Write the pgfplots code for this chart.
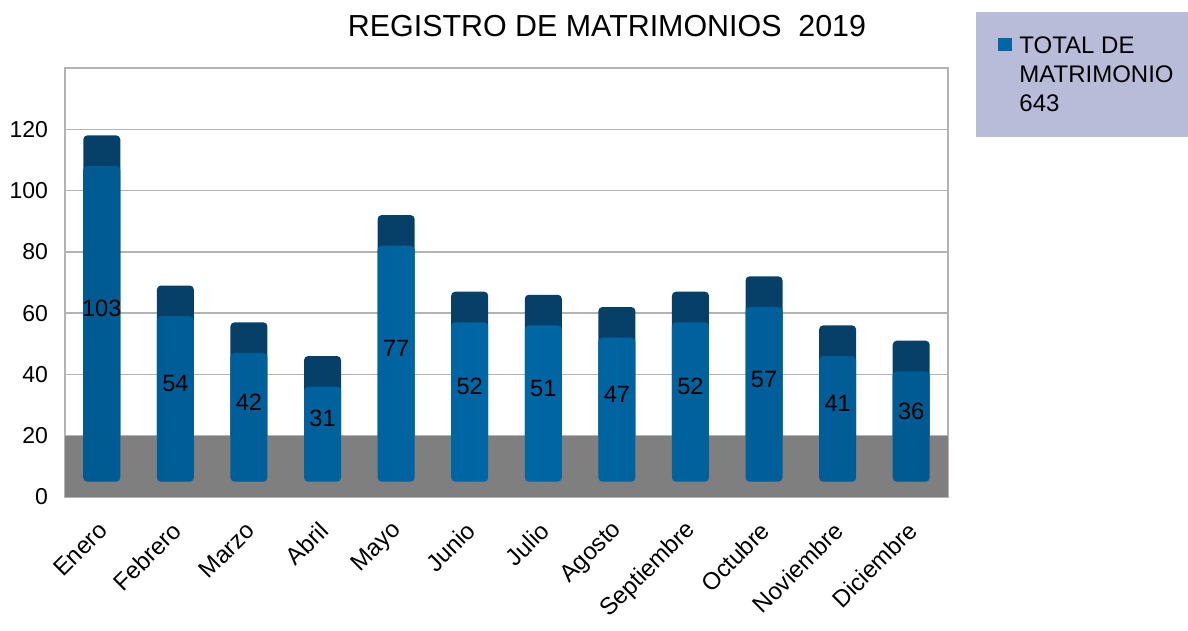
\documentclass[border=0pt]{standalone}
\usepackage{pgfplots}
\pgfplotsset{compat=1.18}
\usepackage{pgfplotstable}
\usepackage{fontspec}
\setmainfont{Liberation Sans}
\definecolor{barlight}{HTML}{0067A5}
\definecolor{baredge}{HTML}{005A92}
\definecolor{barcap}{HTML}{064068}
\definecolor{floorgray}{HTML}{7F7F7F}
\definecolor{gridgray}{HTML}{B3B3B3}
\definecolor{legendbg}{HTML}{B8BCD9}

\pgfplotstableread{
x base v tot mes
0 5 103 113 Enero
1 5 54 64 Febrero
2 5 42 52 Marzo
3 5 31 41 Abril
4 5 77 87 Mayo
5 5 52 62 Junio
6 5 51 61 Julio
7 5 47 57 Agosto
8 5 52 62 Septiembre
9 5 57 67 Octubre
10 5 41 51 Noviembre
11 5 36 46 Diciembre
}\datatable

\pgfplotsset{
  common/.style={
    scale only axis, width=441.5pt, height=214.5pt,
    xmin=-0.5, xmax=11.5, ymin=0, ymax=140,
    enlargelimits=false, clip=false,
  },
}

\begin{document}
\begin{tikzpicture}
\begin{axis}[common,
  ybar stacked, bar width=18.5pt,
  axis line style={gridgray, line width=0.75pt},
  ymajorgrids, grid style={gridgray, line width=0.75pt},
  ytick={0,20,...,120},
  xtick={0,...,11},
  xticklabels={Enero,Febrero,Marzo,Abril,Mayo,Junio,Julio,Agosto,Septiembre,Octubre,Noviembre,Diciembre},
  major tick length=0pt,
  /pgf/number format/assume math mode=true,
  tick label style={font=\fontsize{11.5}{13}\selectfont, black},
  yticklabel style={xshift=-5pt},
  xticklabel style={font=\fontsize{12}{14}\selectfont, xshift=1.5pt, yshift=-14pt, rotate=45, anchor=east, inner sep=1pt},
]
\fill[floorgray] (axis cs:-0.5,0) rectangle (axis cs:11.5,20);
\addplot[draw=none, fill=none, forget plot] table[x=x, y=base] {\datatable};
\addplot[draw=none, fill=barcap, rounded corners=2pt] table[x=x, y=tot] {\datatable};
\end{axis}

\begin{axis}[common, hide axis, ybar stacked, bar width=18.5pt]
\addplot[draw=none, fill=none, forget plot] table[x=x, y=base] {\datatable};
\addplot[draw=none, rounded corners=2pt, left color=baredge, right color=baredge, middle color=barlight] table[x=x, y=v] {\datatable};
\end{axis}

\begin{axis}[common, hide axis]
\addplot[draw=none, mark=none, nodes near coords, point meta=explicit symbolic,
  nodes near coords={\pgfplotspointmeta},
  every node near coord/.append style={anchor=center, font=\fontsize{11.8}{13}\selectfont, text=black}]
  table[x=x, y expr=\thisrow{v}/2+10, meta=v] {\datatable};
\end{axis}

% title
\node[anchor=base, inner sep=0pt, font=\fontsize{15.2}{18}\selectfont] at (271pt,230pt) {REGISTRO DE MATRIMONIOS\ \ 2019};
% legend
\fill[legendbg] (455.5pt,242.5pt) rectangle (561.5pt,180pt);
\fill[barlight] (466.5pt,229.5pt) rectangle (473.5pt,223pt);
\node[anchor=base west, inner sep=0pt, font=\fontsize{12}{14.5}\selectfont] at (477pt,221.5pt) {TOTAL DE};
\node[anchor=base west, inner sep=0pt, font=\fontsize{12}{14.5}\selectfont] at (477pt,207pt) {MATRIMONIO};
\node[anchor=base west, inner sep=0pt, font=\fontsize{12}{14.5}\selectfont] at (477pt,192.5pt) {643};

\pgfresetboundingbox
\path[use as bounding box] (-32.5pt,-67pt) rectangle (561.5pt,248.5pt);
\end{tikzpicture}
\end{document}
